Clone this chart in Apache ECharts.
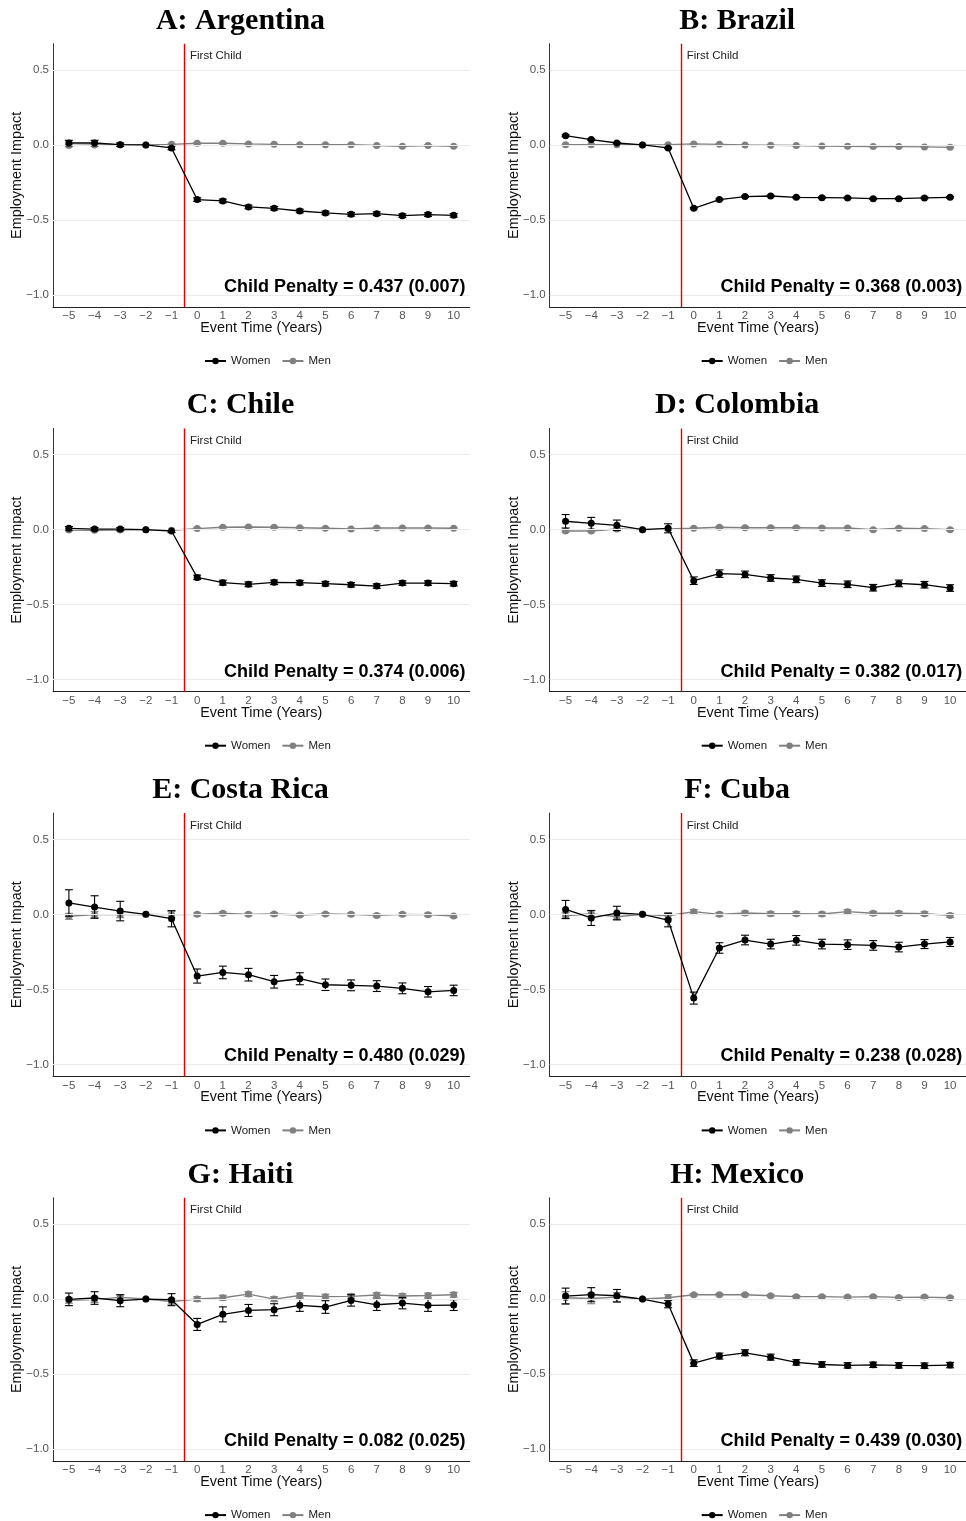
<!DOCTYPE html>
<html><head><meta charset="utf-8">
<script src="https://cdn.jsdelivr.net/npm/echarts@6/dist/echarts.min.js"></script>
<style>html,body{margin:0;padding:0;background:#fff}#chart{width:966px;height:1521px}</style>
</head><body><div id="chart"></div>
<script>
// ---------------- DATA ----------------
const eventTime = [-5,-4,-3,-2,-1,0,1,2,3,4,5,6,7,8,9,10];
const xTickValues = [-5,-4,-3,-2,-1,0,1,2,3,4,5,6,7,8,9,10];
const yTickValues = [-1.0,-0.5,0.0,0.5];
const firstChildAt = -0.5;
const firstChildLabel = 'First Child';
const xAxisTitle = 'Event Time (Years)';
const yAxisTitle = 'Employment Impact';
const seriesNames = ['Women','Men'];

const panelTitles = ['A: Argentina','B: Brazil','C: Chile','D: Colombia','E: Costa Rica','F: Cuba','G: Haiti','H: Mexico'];
const penaltyLabels = [
  'Child Penalty = 0.437 (0.007)','Child Penalty = 0.368 (0.003)',
  'Child Penalty = 0.374 (0.006)','Child Penalty = 0.382 (0.017)',
  'Child Penalty = 0.480 (0.029)','Child Penalty = 0.238 (0.028)',
  'Child Penalty = 0.082 (0.025)','Child Penalty = 0.439 (0.030)'
];

// Argentina
const argentinaWomen    = [0.013,0.013,0.002,0,-0.020,-0.364,-0.373,-0.413,-0.422,-0.440,-0.453,-0.462,-0.458,-0.471,-0.464,-0.469];
const argentinaWomenErr = [0.018,0.018,0.012,0,0.012,0.012,0.012,0.012,0.012,0.012,0.012,0.012,0.012,0.012,0.012,0.012];
const argentinaMen      = [-0.004,0,0.002,0,0.004,0.011,0.011,0.007,0.004,0.002,0.002,0.002,-0.004,-0.009,-0.004,-0.009];
const argentinaMenErr   = [0.008,0.007,0.005,0,0.004,0.004,0.004,0.004,0.004,0.004,0.004,0.004,0.004,0.004,0.004,0.004];
// Brazil
const brazilWomen    = [0.062,0.036,0.013,0,-0.020,-0.422,-0.364,-0.344,-0.340,-0.349,-0.351,-0.353,-0.358,-0.358,-0.353,-0.349];
const brazilWomenErr = [0.006,0.005,0.004,0,0.004,0.005,0.005,0.005,0.005,0.005,0.005,0.005,0.005,0.005,0.005,0.005];
const brazilMen      = [0.002,0.002,0.002,0,0.002,0.007,0.004,0,-0.002,-0.004,-0.007,-0.009,-0.011,-0.011,-0.013,-0.016];
const brazilMenErr   = [0.003,0.003,0.003,0,0.003,0.003,0.003,0.003,0.003,0.003,0.003,0.003,0.003,0.003,0.003,0.003];
// Chile
const chileWomen    = [0.009,0.004,0.004,0,-0.009,-0.318,-0.353,-0.364,-0.351,-0.353,-0.360,-0.367,-0.376,-0.356,-0.356,-0.360];
const chileWomenErr = [0.012,0.010,0.010,0,0.010,0.015,0.016,0.016,0.015,0.015,0.015,0.015,0.015,0.015,0.015,0.015];
const chileMen      = [-0.002,-0.004,-0.002,0,-0.004,0.007,0.016,0.018,0.016,0.013,0.009,0.004,0.011,0.011,0.011,0.009];
const chileMenErr   = [0.005,0.005,0.005,0,0.005,0.005,0.005,0.005,0.005,0.005,0.005,0.005,0.005,0.005,0.005,0.005];
// Colombia
const colombiaWomen    = [0.056,0.042,0.029,0,0.009,-0.340,-0.293,-0.298,-0.322,-0.331,-0.356,-0.364,-0.387,-0.358,-0.367,-0.389];
const colombiaWomenErr = [0.045,0.040,0.035,0,0.030,0.025,0.025,0.022,0.022,0.022,0.022,0.022,0.022,0.022,0.022,0.022];
const colombiaMen      = [-0.009,-0.009,0.004,0,0.004,0.009,0.016,0.013,0.013,0.013,0.011,0.011,0,0.009,0.007,0];
const colombiaMenErr   = [0.007,0.007,0.006,0,0.006,0.006,0.006,0.006,0.006,0.006,0.006,0.006,0.006,0.006,0.006,0.006];
// Costa Rica
const costaRicaWomen    = [0.076,0.049,0.022,0,-0.029,-0.411,-0.387,-0.402,-0.449,-0.429,-0.469,-0.473,-0.478,-0.493,-0.516,-0.507];
const costaRicaWomenErr = [0.088,0.075,0.065,0,0.054,0.047,0.042,0.042,0.042,0.040,0.038,0.036,0.036,0.036,0.035,0.035];
const costaRicaMen      = [-0.013,-0.002,-0.002,0,-0.002,0,0.007,0,0.002,-0.004,0.002,0,-0.007,0,-0.002,-0.011];
const costaRicaMenErr   = [0.020,0.020,0.020,0,0.020,0.010,0.010,0.010,0.010,0.010,0.010,0.010,0.010,0.010,0.010,0.010];
// Cuba
const cubaWomen    = [0.033,-0.024,0.009,0,-0.038,-0.558,-0.224,-0.171,-0.198,-0.173,-0.198,-0.202,-0.207,-0.218,-0.198,-0.184];
const cubaWomenErr = [0.060,0.050,0.045,0,0.045,0.040,0.035,0.032,0.032,0.032,0.032,0.032,0.032,0.032,0.030,0.030];
const cubaMen      = [-0.009,0.004,-0.016,0,-0.009,0.018,0,0.009,0.004,0.004,0.002,0.018,0.007,0.007,0.004,-0.007];
const cubaMenErr   = [0.020,0.020,0.020,0,0.020,0.014,0.013,0.013,0.013,0.013,0.013,0.013,0.013,0.013,0.013,0.013];
// Haiti
const haitiWomen    = [-0.002,0.007,-0.011,0,-0.004,-0.169,-0.102,-0.076,-0.071,-0.042,-0.053,-0.009,-0.038,-0.027,-0.042,-0.040];
const haitiWomenErr = [0.042,0.042,0.040,0,0.040,0.040,0.050,0.040,0.040,0.040,0.042,0.038,0.038,0.038,0.040,0.036];
const haitiMen      = [-0.009,-0.004,0.011,0,-0.016,0,0.009,0.033,0,0.024,0.016,0.018,0.027,0.020,0.024,0.029];
const haitiMenErr   = [0.018,0.018,0.018,0,0.018,0.016,0.016,0.016,0.016,0.016,0.016,0.016,0.016,0.016,0.016,0.016];
// Mexico
const mexicoWomen    = [0.020,0.029,0.022,0,-0.033,-0.427,-0.380,-0.358,-0.387,-0.422,-0.436,-0.442,-0.438,-0.442,-0.444,-0.440];
const mexicoWomenErr = [0.053,0.047,0.042,0,0.025,0.022,0.020,0.020,0.020,0.018,0.018,0.018,0.018,0.018,0.018,0.018];
const mexicoMen      = [0.009,0.004,0.013,0,0.009,0.029,0.029,0.029,0.022,0.016,0.016,0.013,0.016,0.011,0.013,0.009];
const mexicoMenErr   = [0.040,0.035,0.030,0,0.020,0.008,0.008,0.008,0.008,0.008,0.008,0.008,0.008,0.008,0.008,0.008];

const panelWomen    = [argentinaWomen,brazilWomen,chileWomen,colombiaWomen,costaRicaWomen,cubaWomen,haitiWomen,mexicoWomen];
const panelWomenErr = [argentinaWomenErr,brazilWomenErr,chileWomenErr,colombiaWomenErr,costaRicaWomenErr,cubaWomenErr,haitiWomenErr,mexicoWomenErr];
const panelMen      = [argentinaMen,brazilMen,chileMen,colombiaMen,costaRicaMen,cubaMen,haitiMen,mexicoMen];
const panelMenErr   = [argentinaMenErr,brazilMenErr,chileMenErr,colombiaMenErr,costaRicaMenErr,cubaMenErr,haitiMenErr,mexicoMenErr];

// ---------------- LAYOUT / STYLE ----------------
const SANS = "'Liberation Sans', Arial, Helvetica, sans-serif";
const SERIF = "'Liberation Serif', 'Times New Roman', serif";
const WOMEN_COLOR = '#000000';
const MEN_COLOR = '#808080';
const COL_DX = 496.7, ROW_DY = 384.7;
const PLOT_L = 53, PLOT_T = 43.7, PLOT_W = 416.6, PLOT_H = 263.3;

const minus = v => (v < 0 ? '\u2212' + String(-v) : String(v));
const fmt1 = v => (v < 0 ? '\u2212' + (-v).toFixed(1) : v.toFixed(1));

function errRenderer(color) {
  return function (params, api) {
    const x = api.value(0), lo = api.value(1), hi = api.value(2);
    if (hi - lo <= 0) return null;
    const a = api.coord([x, lo]), b = api.coord([x, hi]);
    const w = 4;
    const st = { stroke: color, lineWidth: 1.1 };
    return { type: 'group', children: [
      { type: 'line', shape: { x1: a[0], y1: a[1], x2: b[0], y2: b[1] }, style: st },
      { type: 'line', shape: { x1: a[0] - w, y1: a[1], x2: a[0] + w, y2: a[1] }, style: st },
      { type: 'line', shape: { x1: b[0] - w, y1: b[1], x2: b[0] + w, y2: b[1] }, style: st }
    ]};
  };
}

const grids = [], xAxes = [], yAxes = [], series = [], legends = [], graphics = [];

for (let i = 0; i < 8; i++) {
  const col = i % 2, row = Math.floor(i / 2);
  const ox = col * COL_DX, oy = row * ROW_DY;
  const left = PLOT_L + ox, top = PLOT_T + oy;

  grids.push({ left: left, top: top, width: PLOT_W, height: PLOT_H, containLabel: false });
  xAxes.push({
    type: 'value', gridIndex: i, min: -5.62, max: 10.62,
    axisLine: { show: true, onZero: false, lineStyle: { color: '#222', width: 1 } },
    axisTick: { show: false },
    splitLine: { show: false },
    axisLabel: { customValues: xTickValues, formatter: minus, color: '#555', fontSize: 11.5, fontFamily: SANS, margin: 3 }
  });
  yAxes.push({
    type: 'value', gridIndex: i, min: -1.08, max: 0.675,
    axisLine: { show: true, onZero: false, lineStyle: { color: '#333', width: 1 } },
    axisTick: { show: false },
    splitLine: { show: false },
    axisLabel: { customValues: yTickValues, formatter: fmt1, color: '#555', fontSize: 11.5, fontFamily: SANS, margin: 4 }
  });

  const gridLines = yTickValues.map(v => ({ yAxis: v }));
  gridLines.push({ xAxis: firstChildAt, lineStyle: { color: '#e00000', width: 1.4, type: 'solid' } });
  series.push({
    type: 'line', name: 'guides', xAxisIndex: i, yAxisIndex: i, data: [], z: 1, silent: true,
    markLine: { silent: true, symbol: ['none', 'none'], label: { show: false }, animation: false,
      lineStyle: { color: '#ebebeb', width: 1, type: 'solid' }, data: gridLines }
  });

  const men = panelMen[i], menE = panelMenErr[i], wom = panelWomen[i], womE = panelWomenErr[i];
  series.push({
    type: 'custom', name: 'Men CI', xAxisIndex: i, yAxisIndex: i, z: 2, silent: true,
    renderItem: errRenderer(MEN_COLOR), encode: { x: 0, y: [1, 2] },
    data: eventTime.map((t, k) => [t, men[k] - menE[k], men[k] + menE[k]])
  });
  series.push({
    type: 'line', name: seriesNames[1], xAxisIndex: i, yAxisIndex: i, z: 3,
    data: eventTime.map((t, k) => [t, men[k]]),
    symbol: 'circle', symbolSize: 7, lineStyle: { color: MEN_COLOR, width: 1.4 },
    itemStyle: { color: MEN_COLOR }, emphasis: { disabled: true }
  });
  series.push({
    type: 'custom', name: 'Women CI', xAxisIndex: i, yAxisIndex: i, z: 4, silent: true,
    renderItem: errRenderer(WOMEN_COLOR), encode: { x: 0, y: [1, 2] },
    data: eventTime.map((t, k) => [t, wom[k] - womE[k], wom[k] + womE[k]])
  });
  series.push({
    type: 'line', name: seriesNames[0], xAxisIndex: i, yAxisIndex: i, z: 5,
    data: eventTime.map((t, k) => [t, wom[k]]),
    symbol: 'circle', symbolSize: 7, lineStyle: { color: WOMEN_COLOR, width: 1.3 },
    itemStyle: { color: WOMEN_COLOR }, emphasis: { disabled: true }
  });

  legends.push({
    data: seriesNames, left: 199 + ox, top: 350 + oy, orient: 'horizontal',
    itemWidth: 21, itemHeight: 8, itemGap: 11, selectedMode: false,
    textStyle: { fontSize: 11.5, fontFamily: SANS, color: '#1a1a1a' }
  });

  graphics.push(
    { type: 'text', x: 240.5 + ox, y: 21 + oy, style: { text: panelTitles[i], font: 'bold 30px ' + SERIF, fill: '#000', align: 'center', verticalAlign: 'middle' } },
    { type: 'text', x: 190 + ox, y: 56 + oy, z: 10, style: { text: firstChildLabel, font: '11.5px ' + SANS, fill: '#222', align: 'left', verticalAlign: 'middle' } },
    { type: 'text', x: 465.5 + ox, y: 287 + oy, z: 10, style: { text: penaltyLabels[i], font: 'bold 18px ' + SANS, fill: '#000', align: 'right', verticalAlign: 'middle' } },
    { type: 'text', x: left + PLOT_W / 2, y: 328 + oy, style: { text: xAxisTitle, font: '14.4px ' + SANS, fill: '#111', align: 'center', verticalAlign: 'middle' } },
    { type: 'text', x: 17.5 + ox, y: top + PLOT_H / 2, rotation: Math.PI / 2, style: { text: yAxisTitle, font: '14.4px ' + SANS, fill: '#111', align: 'center', verticalAlign: 'middle' } }
  );
}

const chart = echarts.init(document.getElementById('chart'), null, { renderer: 'canvas' });
chart.setOption({
  animation: false,
  backgroundColor: '#ffffff',
  grid: grids, xAxis: xAxes, yAxis: yAxes, series: series, legend: legends,
  graphic: { elements: graphics }
});
</script>
</body></html>
